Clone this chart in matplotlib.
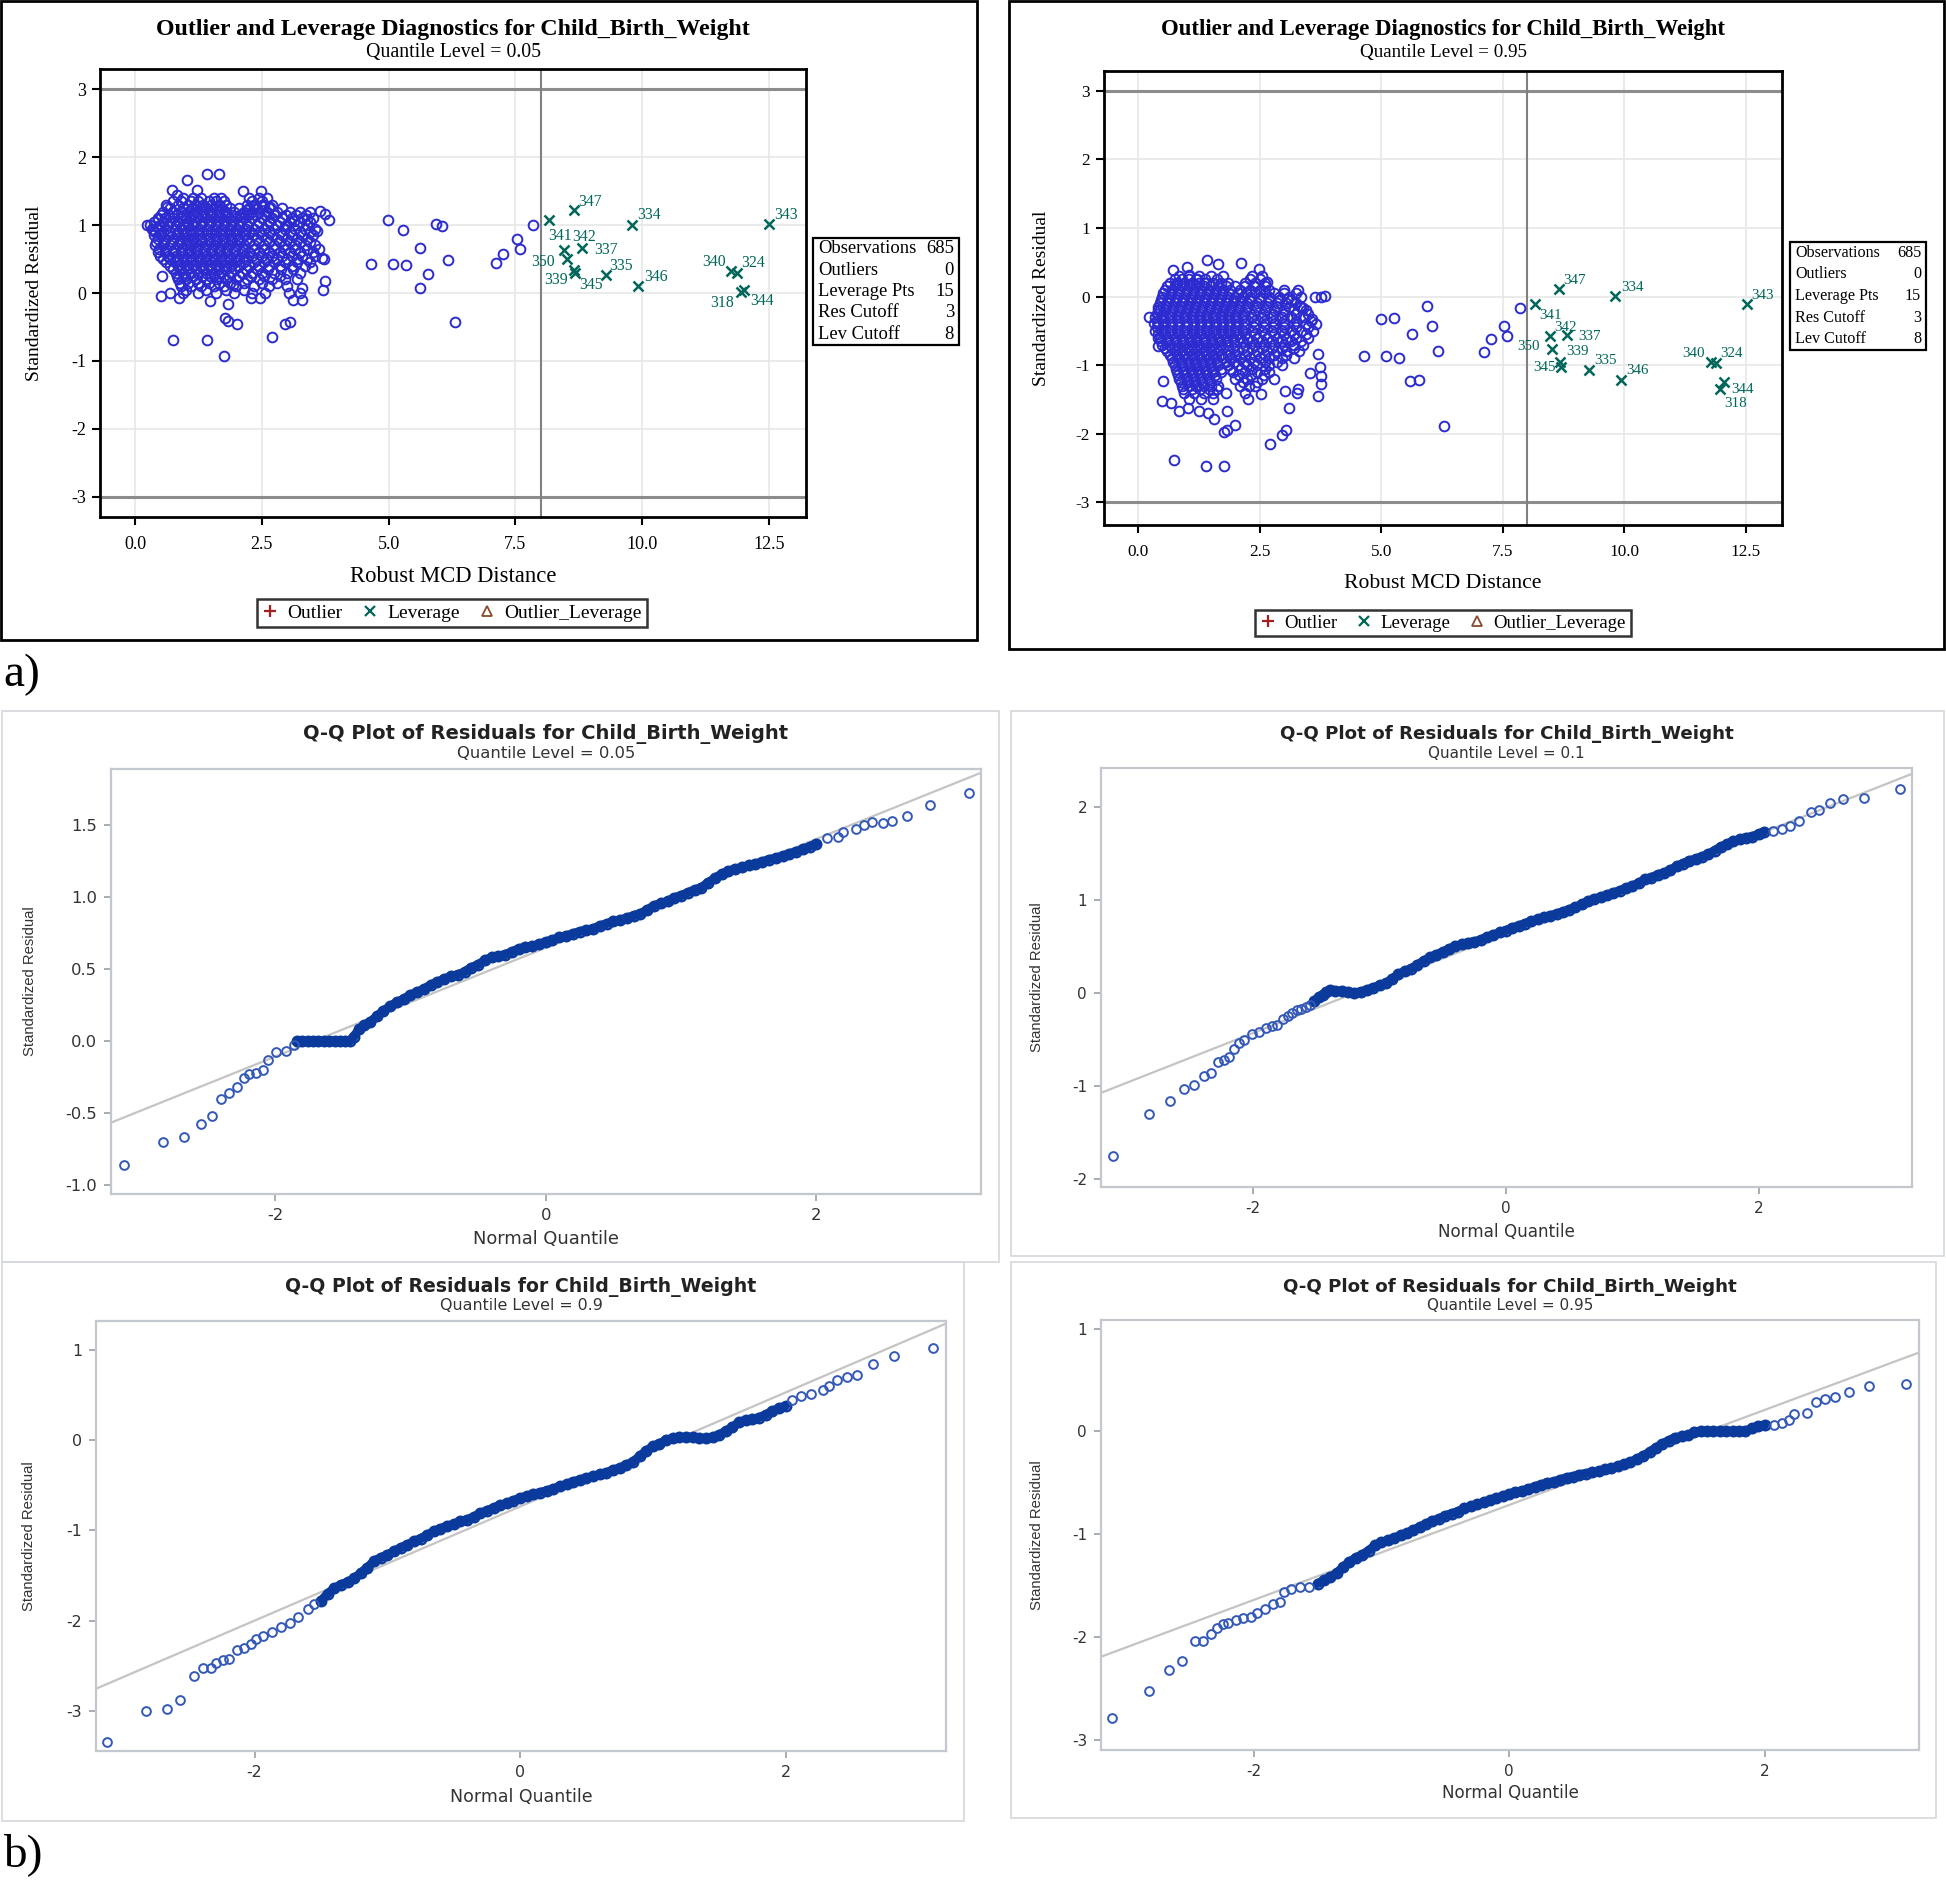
import matplotlib
matplotlib.use("Agg")
import matplotlib.pyplot as plt
from matplotlib.lines import Line2D
from matplotlib.patches import Rectangle

# ------------------------------------------------------------------ data
# Panel a) : Outlier and leverage diagnostics
diag_levels = ["0.05", "0.95"]
diag_xticks = [0.0, 2.5, 5.0, 7.5, 10.0, 12.5]
diag_xticklabels = ["0.0", "2.5", "5.0", "7.5", "10.0", "12.5"]
diag_yticks = [-3, -2, -1, 0, 1, 2, 3]
res_cutoff = 3
lev_cutoff = 8
stats_labels = ["Observations", "Outliers", "Leverage Pts", "Res Cutoff", "Lev Cutoff"]
stats_values = ["685", "0", "15", "3", "8"]
legend_labels = ["Outlier", "Leverage", "Outlier_Leverage"]

# dense cloud, read row by row (residual, list of robust distances)
q05_cloud_rows = [
    (1.40, [0.95, 1.15, 1.30, 1.55, 1.70, 2.25, 2.45, 2.60]),
    (1.35, [0.75, 0.90, 1.10, 1.25, 1.45, 1.60, 1.75, 2.30, 2.50]),
    (1.30, [0.62, 0.85, 1.05, 1.20, 1.35, 1.50, 1.65, 1.80, 2.20, 2.35, 2.55, 2.70]),
    (1.25, [0.70, 0.95, 1.12, 1.28, 1.42, 1.58, 1.72, 1.88, 2.05, 2.25, 2.40, 2.65, 2.90]),
    (1.20, [0.55, 0.75, 0.90, 1.05, 1.20, 1.35, 1.50, 1.65, 1.80, 1.95, 2.15, 2.30, 2.45, 2.60, 2.80, 3.05, 3.25, 3.45]),
    (1.15, [0.52, 0.68, 0.82, 0.97, 1.13, 1.32, 1.47, 1.62, 1.78, 1.92, 2.08, 2.22, 2.38, 2.58, 2.75, 2.98, 3.18, 3.38]),
    (1.10, [0.45, 0.60, 0.75, 0.90, 1.00, 1.10, 1.25, 1.40, 1.55, 1.70, 1.85, 2.00, 2.15, 2.30, 2.50, 2.70, 2.90, 3.10, 3.30, 3.50]),
    (1.05, [0.38, 0.55, 0.70, 0.85, 1.02, 1.18, 1.33, 1.48, 1.63, 1.78, 1.93, 2.08, 2.25, 2.45, 2.65, 2.85, 3.05, 3.25, 3.45]),
    (1.00, [0.30, 0.50, 0.65, 0.80, 0.95, 1.05, 1.15, 1.30, 1.45, 1.60, 1.75, 1.90, 2.05, 2.20, 2.40, 2.60, 2.80, 3.00, 3.20, 3.40]),
    (0.95, [0.33, 0.48, 0.62, 0.78, 0.92, 1.08, 1.27, 1.42, 1.58, 1.72, 1.88, 2.02, 2.18, 2.35, 2.55, 2.75, 2.95, 3.15, 3.35, 3.55]),
    (0.90, [0.40, 0.55, 0.70, 0.85, 1.00, 1.10, 1.20, 1.35, 1.50, 1.65, 1.80, 1.95, 2.10, 2.25, 2.45, 2.65, 2.85, 3.05, 3.25, 3.45]),
    (0.85, [0.38, 0.52, 0.68, 0.82, 0.97, 1.12, 1.27, 1.42, 1.57, 1.72, 1.87, 2.02, 2.17, 2.32, 2.50, 2.70, 2.90, 3.10, 3.30, 3.50]),
    (0.80, [0.45, 0.60, 0.75, 0.90, 1.05, 1.15, 1.30, 1.45, 1.60, 1.75, 1.90, 2.05, 2.20, 2.40, 2.60, 2.80, 3.00, 3.20, 3.40]),
    (0.75, [0.42, 0.58, 0.72, 0.88, 1.02, 1.18, 1.33, 1.48, 1.62, 1.78, 1.92, 2.08, 2.25, 2.45, 2.65, 2.85, 3.05, 3.25, 3.45]),
    (0.70, [0.40, 0.55, 0.70, 0.85, 1.00, 1.10, 1.25, 1.40, 1.55, 1.70, 1.85, 2.00, 2.15, 2.35, 2.55, 2.75, 2.95, 3.15, 3.35, 3.55]),
    (0.65, [0.48, 0.62, 0.78, 0.92, 1.08, 1.22, 1.38, 1.52, 1.68, 1.82, 1.98, 2.15, 2.35, 2.55, 2.75, 2.95, 3.15, 3.40, 3.62]),
    (0.60, [0.45, 0.60, 0.75, 0.90, 1.05, 1.20, 1.35, 1.50, 1.65, 1.80, 1.95, 2.10, 2.25, 2.45, 2.65, 2.85, 3.05, 3.25, 3.50]),
    (0.55, [0.50, 0.65, 0.80, 0.95, 1.10, 1.25, 1.40, 1.55, 1.70, 1.85, 2.00, 2.15, 2.30, 2.50, 2.70, 2.90, 3.10, 3.30, 3.55]),
    (0.50, [0.55, 0.70, 0.85, 1.00, 1.15, 1.30, 1.45, 1.60, 1.75, 1.90, 2.05, 2.20, 2.40, 2.60, 2.80, 3.00, 3.20, 3.40]),
    (0.45, [0.62, 0.78, 0.92, 1.08, 1.22, 1.38, 1.52, 1.68, 1.82, 1.98, 2.15, 2.35, 2.55, 2.75, 2.95, 3.20, 3.45]),
    (0.40, [0.70, 0.85, 1.00, 1.15, 1.30, 1.45, 1.60, 1.75, 1.90, 2.05, 2.25, 2.45, 2.65, 2.85, 3.10, 3.35]),
    (0.35, [0.75, 0.90, 1.05, 1.20, 1.35, 1.50, 1.65, 1.80, 1.98, 2.18, 2.40, 2.62, 2.88, 3.12]),
    (0.30, [0.80, 0.95, 1.10, 1.25, 1.40, 1.55, 1.70, 1.90, 2.10, 2.30, 2.50, 2.75, 3.00, 3.25]),
    (0.25, [0.82, 0.98, 1.15, 1.32, 1.48, 1.65, 1.85, 2.05, 2.28, 2.55, 2.85]),
    (0.20, [0.85, 1.00, 1.20, 1.40, 1.60, 1.80, 2.00, 2.20, 2.45, 2.70, 2.95, 3.20]),
    (0.15, [0.88, 1.05, 1.25, 1.45, 1.65, 1.88, 2.15, 2.50]),
    (0.10, [0.90, 1.10, 1.30, 1.55, 1.75, 2.00, 2.35, 2.65, 3.00]),
    (0.05, [1.00, 1.40, 1.80, 2.15]),
    (0.00, [0.95, 1.25, 1.60, 1.95, 2.30]),
]
q05_single = [
    (1.41, 1.75), (1.66, 1.75), (1.02, 1.66), (0.72, 1.52), (0.82, 1.44), (1.22, 1.52), (2.12, 1.50),
    (2.48, 1.50), (0.63, 1.27), (3.65, 1.21), (3.75, 1.16), (3.82, 1.08), (0.24, 1.00), (0.35, 0.93),
    (0.46, 1.09), (0.53, 0.25), (0.51, -0.04), (0.69, 0.00), (0.86, -0.08), (1.47, -0.12), (1.83, -0.16),
    (1.78, -0.37), (1.84, -0.41), (2.01, -0.46), (0.74, -0.69), (1.41, -0.69), (1.76, -0.93), (2.71, -0.65),
    (2.96, -0.46), (3.05, -0.43), (3.68, 0.52), (3.72, 0.50), (3.75, 0.17), (3.70, 0.04), (3.11, -0.11),
    (3.29, -0.11), (3.29, 0.07), (3.49, 0.37), (3.59, 0.92), (3.39, 1.09), (3.13, 1.06), (2.96, 0.99),
    (2.66, 1.26), (2.50, 1.29), (2.34, 1.26), (2.20, 1.22), (2.66, 1.06), (2.29, -0.07), (2.47, -0.07),
    (2.57, 0.00), (2.80, 0.15), (3.03, 0.00), (3.26, 0.00), (1.94, 0.12),
    (4.99, 1.08), (5.28, 0.93), (5.93, 1.02), (6.05, 0.98), (5.62, 0.67), (6.17, 0.49), (4.66, 0.43),
    (5.09, 0.42), (5.35, 0.41), (5.77, 0.28), (5.62, 0.07), (6.31, -0.43), (7.11, 0.44), (7.25, 0.58),
    (7.54, 0.79), (7.59, 0.65), (7.84, 1.00),
]
q95_cloud_rows = [
    (0.30, [0.85, 1.05, 1.25, 1.50, 1.75, 2.35, 2.55]),
    (0.25, [0.75, 0.90, 1.05, 1.20, 1.38, 1.62, 2.30, 2.50]),
    (0.20, [0.65, 0.80, 0.95, 1.10, 1.25, 1.40, 1.55, 1.70, 1.85, 2.20, 2.40, 2.60]),
    (0.15, [0.60, 0.75, 0.90, 1.05, 1.20, 1.35, 1.50, 1.65, 1.80, 2.00, 2.20, 2.40, 2.60]),
    (0.10, [0.55, 0.70, 0.85, 1.00, 1.15, 1.30, 1.45, 1.60, 1.75, 1.90, 2.10, 2.30, 2.50, 2.70, 3.00]),
    (0.05, [0.52, 0.68, 0.82, 0.98, 1.12, 1.28, 1.42, 1.58, 1.72, 1.88, 2.05, 2.22, 2.40, 2.60, 2.80, 3.00, 3.25]),
    (0.00, [0.50, 0.65, 0.80, 0.95, 1.10, 1.25, 1.40, 1.55, 1.70, 1.85, 2.00, 2.15, 2.30, 2.50, 2.70, 2.90, 3.10, 3.35]),
    (-0.05, [0.48, 0.62, 0.78, 0.92, 1.08, 1.22, 1.38, 1.52, 1.68, 1.82, 1.98, 2.12, 2.30, 2.50, 2.70, 2.90, 3.15]),
    (-0.10, [0.45, 0.60, 0.75, 0.90, 1.05, 1.20, 1.35, 1.50, 1.65, 1.80, 1.95, 2.10, 2.25, 2.45, 2.65, 2.85, 3.05, 3.25]),
    (-0.15, [0.42, 0.58, 0.72, 0.88, 1.02, 1.18, 1.32, 1.48, 1.62, 1.78, 1.92, 2.08, 2.25, 2.45, 2.65, 2.85, 3.10, 3.35]),
    (-0.20, [0.40, 0.55, 0.70, 0.85, 1.00, 1.15, 1.30, 1.45, 1.60, 1.75, 1.90, 2.05, 2.20, 2.40, 2.60, 2.80, 3.00, 3.20, 3.45]),
    (-0.25, [0.38, 0.52, 0.68, 0.82, 0.98, 1.12, 1.28, 1.42, 1.58, 1.72, 1.88, 2.02, 2.18, 2.38, 2.58, 2.78, 3.00, 3.25, 3.50]),
    (-0.30, [0.35, 0.50, 0.65, 0.80, 0.95, 1.10, 1.25, 1.40, 1.55, 1.70, 1.85, 2.00, 2.15, 2.35, 2.55, 2.75, 2.95, 3.15, 3.40]),
    (-0.35, [0.38, 0.52, 0.68, 0.82, 0.98, 1.12, 1.28, 1.42, 1.58, 1.72, 1.88, 2.02, 2.18, 2.38, 2.58, 2.78, 3.00, 3.25, 3.55]),
    (-0.40, [0.40, 0.55, 0.70, 0.85, 1.00, 1.15, 1.30, 1.45, 1.60, 1.75, 1.90, 2.05, 2.20, 2.40, 2.60, 2.80, 3.00, 3.20, 3.45, 3.65]),
    (-0.45, [0.38, 0.52, 0.68, 0.82, 0.98, 1.12, 1.28, 1.42, 1.58, 1.72, 1.88, 2.02, 2.18, 2.38, 2.58, 2.78, 3.00, 3.25, 3.50]),
    (-0.50, [0.35, 0.50, 0.65, 0.80, 0.95, 1.10, 1.25, 1.40, 1.55, 1.70, 1.85, 2.00, 2.15, 2.35, 2.55, 2.75, 2.95, 3.15, 3.35, 3.60]),
    (-0.55, [0.40, 0.55, 0.70, 0.85, 1.00, 1.15, 1.30, 1.45, 1.60, 1.75, 1.90, 2.05, 2.20, 2.40, 2.60, 2.80, 3.00, 3.20, 3.45]),
    (-0.60, [0.45, 0.60, 0.75, 0.90, 1.05, 1.20, 1.35, 1.50, 1.65, 1.80, 1.95, 2.10, 2.25, 2.45, 2.65, 2.85, 3.05, 3.25, 3.50]),
    (-0.65, [0.48, 0.62, 0.78, 0.92, 1.08, 1.22, 1.38, 1.52, 1.68, 1.82, 1.98, 2.15, 2.35, 2.55, 2.75, 2.95, 3.15, 3.35]),
    (-0.70, [0.50, 0.65, 0.80, 0.95, 1.10, 1.25, 1.40, 1.55, 1.70, 1.85, 2.00, 2.20, 2.40, 2.60, 2.80, 3.00, 3.20, 3.40]),
    (-0.75, [0.55, 0.70, 0.85, 1.00, 1.15, 1.30, 1.45, 1.60, 1.75, 1.95, 2.15, 2.35, 2.55, 2.75, 2.95, 3.20]),
    (-0.80, [0.60, 0.75, 0.90, 1.05, 1.20, 1.35, 1.50, 1.65, 1.85, 2.05, 2.25, 2.45, 2.65, 2.85, 3.05, 3.30]),
    (-0.85, [0.65, 0.80, 0.95, 1.10, 1.25, 1.40, 1.55, 1.70, 1.85, 2.00, 2.20, 2.40, 2.60, 2.80, 3.05]),
    (-0.90, [0.70, 0.85, 1.00, 1.15, 1.30, 1.45, 1.60, 1.75, 1.90, 2.10, 2.30, 2.50, 2.70, 2.95, 3.20]),
    (-0.95, [0.72, 0.88, 1.02, 1.18, 1.32, 1.48, 1.62, 1.80, 1.98, 2.18, 2.38, 2.60, 2.85]),
    (-1.00, [0.75, 0.90, 1.05, 1.20, 1.35, 1.50, 1.65, 1.85, 2.05, 2.25, 2.45, 2.70, 2.95]),
    (-1.05, [0.78, 0.92, 1.08, 1.22, 1.38, 1.52, 1.70, 1.90, 2.12, 2.35, 2.60]),
    (-1.10, [0.80, 0.95, 1.10, 1.25, 1.40, 1.55, 1.70, 1.95, 2.20, 2.45, 2.70]),
    (-1.15, [0.82, 0.98, 1.12, 1.28, 1.42, 1.58, 2.08, 2.32, 2.58]),
    (-1.20, [0.85, 1.00, 1.15, 1.30, 1.45, 1.60, 2.00, 2.25, 2.55]),
    (-1.25, [0.88, 1.02, 1.18, 1.32, 1.48, 2.15, 2.45]),
    (-1.30, [0.90, 1.05, 1.20, 1.35, 1.50, 1.65, 2.10, 2.40]),
    (-1.35, [0.92, 1.10, 1.28, 1.45, 1.62]),
    (-1.40, [0.95, 1.15, 1.35, 1.55, 1.80, 2.20]),
    (-1.50, [1.05, 1.30, 1.55]),
]
q95_single = [
    (1.41, 0.53), (2.12, 0.49), (1.65, 0.47), (2.48, 0.40), (0.71, 0.39), (1.01, 0.43), (1.05, 0.32),
    (1.21, 0.25), (0.81, 0.20), (2.66, 0.22), (3.29, 0.09), (3.64, 0.00), (3.77, 0.00), (3.84, 0.01),
    (3.07, -0.03), (3.33, -0.13), (3.40, -0.17), (0.45, -0.20), (0.23, -0.30), (0.33, -0.38), (3.57, -0.32),
    (0.40, -0.60), (0.41, -0.72), (3.71, -0.83), (3.74, -1.03), (3.76, -1.16), (3.76, -1.27), (3.53, -1.11),
    (3.69, -1.45), (3.27, -1.40), (3.29, -1.35), (3.02, -1.38), (3.10, -1.63), (0.52, -1.23), (0.49, -1.52),
    (0.68, -1.55), (0.85, -1.67), (1.02, -1.62), (1.26, -1.67), (1.43, -1.69), (1.57, -1.79), (1.83, -1.67),
    (1.76, -1.97), (1.83, -1.94), (2.00, -1.87), (0.74, -2.38), (1.40, -2.47), (1.76, -2.47), (2.71, -2.15),
    (2.96, -2.02), (3.05, -1.94), (2.80, -1.20), (2.26, -1.50), (2.28, -1.30), (2.53, -1.42),
    (5.95, -0.14), (5.00, -0.32), (5.27, -0.31), (6.04, -0.43), (5.63, -0.54), (6.17, -0.80), (4.65, -0.86),
    (5.09, -0.86), (5.36, -0.90), (5.60, -1.23), (5.77, -1.22), (7.11, -0.81), (7.26, -0.62), (7.53, -0.43),
    (7.59, -0.58), (7.85, -0.17), (6.30, -1.88),
]
lev_ids = [347, 341, 334, 343, 342, 337, 350, 339, 345, 335, 346, 340, 324, 318, 344]
q05_lev_x = [8.65, 8.16, 9.79, 12.50, 8.46, 8.81, 8.52, 8.66, 8.68, 9.28, 9.92, 11.75, 11.86, 11.94, 12.01]
q05_lev_y = [1.22, 1.07, 1.00, 1.01, 0.63, 0.66, 0.50, 0.34, 0.29, 0.26, 0.10, 0.32, 0.29, 0.01, 0.04]
q95_lev_x = [8.66, 8.17, 9.81, 12.52, 8.47, 8.81, 8.52, 8.70, 8.67, 9.28, 9.93, 11.79, 11.88, 11.97, 12.04]
q95_lev_y = [0.11, -0.11, 0.01, -0.11, -0.58, -0.56, -0.76, -1.02, -0.95, -1.07, -1.22, -0.95, -0.97, -1.34, -1.25]

# Panel b) : Q-Q plots of residuals  (normal quantile, standardized residual)
qq_levels = ["0.05", "0.1", "0.9", "0.95"]
qq05_lo = [(-3.12, -0.86), (-2.83, -0.70), (-2.67, -0.67), (-2.55, -0.58), (-2.47, -0.52), (-2.40, -0.40),
           (-2.34, -0.36), (-2.28, -0.32), (-2.23, -0.26), (-2.19, -0.23), (-2.14, -0.22), (-2.09, -0.20),
           (-2.05, -0.13), (-1.99, -0.08), (-1.92, -0.07), (-1.86, -0.03)]
qq05_band = [(-1.84, 0.0), (-1.80, 0.0), (-1.76, 0.0), (-1.72, 0.0), (-1.68, 0.0), (-1.64, 0.0), (-1.60, 0.0),
             (-1.56, 0.0), (-1.52, 0.0), (-1.48, 0.0), (-1.45, 0.0), (-1.42, 0.03), (-1.38, 0.08), (-1.34, 0.11),
             (-1.30, 0.13), (-1.25, 0.17), (-1.20, 0.21), (-1.15, 0.24), (-1.10, 0.27), (-1.05, 0.29), (-1.00, 0.32),
             (-0.95, 0.34), (-0.90, 0.36), (-0.85, 0.39), (-0.80, 0.41), (-0.75, 0.43), (-0.70, 0.45), (-0.65, 0.46),
             (-0.60, 0.48), (-0.55, 0.51), (-0.50, 0.53), (-0.45, 0.56), (-0.40, 0.58), (-0.35, 0.59), (-0.30, 0.60),
             (-0.25, 0.62), (-0.20, 0.64), (-0.15, 0.65), (-0.10, 0.66), (-0.05, 0.67), (0.00, 0.69), (0.05, 0.70),
             (0.10, 0.72), (0.15, 0.73), (0.20, 0.745), (0.25, 0.76), (0.30, 0.77), (0.35, 0.78), (0.40, 0.80),
             (0.45, 0.815), (0.50, 0.83), (0.55, 0.84), (0.60, 0.855), (0.65, 0.87), (0.70, 0.885), (0.75, 0.91),
             (0.80, 0.94), (0.85, 0.955), (0.90, 0.97), (0.95, 0.995), (1.00, 1.01), (1.05, 1.03), (1.10, 1.05),
             (1.15, 1.065), (1.20, 1.10), (1.25, 1.13), (1.30, 1.16), (1.35, 1.18), (1.40, 1.195), (1.45, 1.205),
             (1.50, 1.22), (1.55, 1.23), (1.60, 1.245), (1.65, 1.26), (1.70, 1.27), (1.75, 1.285), (1.80, 1.30),
             (1.85, 1.315), (1.90, 1.33), (1.95, 1.35), (2.00, 1.37)]
qq05_hi = [(2.08, 1.41), (2.16, 1.42), (2.20, 1.45), (2.29, 1.47), (2.35, 1.50), (2.41, 1.52), (2.49, 1.515),
           (2.56, 1.53), (2.67, 1.56), (2.84, 1.64), (3.13, 1.72)]

qq10_lo = [(-3.11, -1.76), (-2.82, -1.30), (-2.66, -1.16), (-2.55, -1.03), (-2.47, -0.99), (-2.39, -0.89),
           (-2.33, -0.86), (-2.28, -0.74), (-2.23, -0.72), (-2.19, -0.69), (-2.15, -0.60), (-2.11, -0.54),
           (-2.07, -0.51), (-2.01, -0.44), (-1.95, -0.42), (-1.90, -0.38), (-1.85, -0.36), (-1.81, -0.35),
           (-1.76, -0.28), (-1.72, -0.25), (-1.69, -0.22), (-1.65, -0.19), (-1.62, -0.17), (-1.58, -0.15),
           (-1.55, -0.13)]
qq10_band = [(-1.52, -0.09), (-1.48, -0.05), (-1.45, -0.02), (-1.42, 0.01), (-1.39, 0.025), (-1.35, 0.02),
             (-1.30, 0.02), (-1.25, 0.01), (-1.20, 0.00), (-1.15, 0.01), (-1.10, 0.03), (-1.05, 0.055),
             (-1.00, 0.08), (-0.95, 0.10), (-0.90, 0.15), (-0.85, 0.20), (-0.80, 0.23), (-0.75, 0.26),
             (-0.70, 0.30), (-0.65, 0.345), (-0.60, 0.38), (-0.55, 0.41), (-0.50, 0.44), (-0.45, 0.47),
             (-0.40, 0.50), (-0.35, 0.52), (-0.30, 0.54), (-0.25, 0.55), (-0.20, 0.57), (-0.15, 0.60),
             (-0.10, 0.62), (-0.05, 0.65), (0.00, 0.67), (0.05, 0.70), (0.10, 0.72), (0.15, 0.745),
             (0.20, 0.77), (0.25, 0.79), (0.30, 0.81), (0.35, 0.83), (0.40, 0.85), (0.45, 0.87), (0.50, 0.895),
             (0.55, 0.92), (0.60, 0.95), (0.65, 0.985), (0.70, 1.01), (0.75, 1.03), (0.80, 1.05), (0.85, 1.075),
             (0.90, 1.10), (0.95, 1.125), (1.00, 1.15), (1.05, 1.18), (1.10, 1.22), (1.15, 1.24), (1.20, 1.27),
             (1.25, 1.29), (1.30, 1.32), (1.35, 1.36), (1.40, 1.39), (1.45, 1.42), (1.50, 1.44), (1.55, 1.465),
             (1.60, 1.49), (1.65, 1.53), (1.70, 1.57), (1.75, 1.60), (1.80, 1.63), (1.85, 1.65), (1.90, 1.67),
             (1.95, 1.68), (2.00, 1.71), (2.04, 1.73)]
qq10_hi = [(2.11, 1.74), (2.18, 1.76), (2.25, 1.79), (2.32, 1.85), (2.41, 1.94), (2.48, 1.97), (2.56, 2.04),
           (2.67, 2.08), (2.83, 2.09), (3.12, 2.19)]

qq90_lo = [(-3.11, -3.34), (-2.82, -3.00), (-2.66, -2.97), (-2.56, -2.88), (-2.46, -2.61), (-2.39, -2.52),
           (-2.33, -2.52), (-2.29, -2.47), (-2.24, -2.43), (-2.19, -2.42), (-2.13, -2.32), (-2.08, -2.30),
           (-2.03, -2.26), (-1.99, -2.20), (-1.94, -2.17), (-1.87, -2.12), (-1.80, -2.07), (-1.73, -2.02),
           (-1.67, -1.96), (-1.60, -1.87), (-1.55, -1.81)]
qq90_band = [(-1.50, -1.78), (-1.45, -1.70), (-1.40, -1.64), (-1.35, -1.60), (-1.30, -1.57), (-1.25, -1.53),
             (-1.20, -1.47), (-1.15, -1.41), (-1.10, -1.34), (-1.05, -1.30), (-1.00, -1.27), (-0.95, -1.23),
             (-0.90, -1.19), (-0.85, -1.16), (-0.80, -1.12), (-0.75, -1.09), (-0.70, -1.05), (-0.65, -1.01),
             (-0.60, -0.98), (-0.55, -0.95), (-0.50, -0.93), (-0.45, -0.90), (-0.40, -0.88), (-0.35, -0.85),
             (-0.30, -0.81), (-0.25, -0.78), (-0.20, -0.75), (-0.15, -0.72), (-0.10, -0.70), (-0.05, -0.67),
             (0.00, -0.64), (0.05, -0.62), (0.10, -0.60), (0.15, -0.58), (0.20, -0.56), (0.25, -0.54),
             (0.30, -0.51), (0.35, -0.49), (0.40, -0.46), (0.45, -0.44), (0.50, -0.42), (0.55, -0.40),
             (0.60, -0.38), (0.65, -0.36), (0.70, -0.33), (0.75, -0.31), (0.80, -0.28), (0.85, -0.24),
             (0.90, -0.18), (0.95, -0.12), (1.00, -0.07), (1.05, -0.04), (1.10, 0.00), (1.15, 0.02),
             (1.20, 0.03), (1.25, 0.03), (1.30, 0.03), (1.35, 0.02), (1.40, 0.02), (1.45, 0.03), (1.50, 0.06),
             (1.55, 0.10), (1.60, 0.14), (1.65, 0.20), (1.70, 0.22), (1.75, 0.23), (1.80, 0.25), (1.85, 0.28),
             (1.90, 0.32), (1.95, 0.35), (2.00, 0.38)]
qq90_hi = [(2.05, 0.44), (2.12, 0.49), (2.19, 0.51), (2.28, 0.55), (2.33, 0.60), (2.39, 0.67), (2.46, 0.70),
           (2.54, 0.72), (2.66, 0.84), (2.82, 0.93), (3.11, 1.02)]

qq95_lo = [(-3.11, -2.79), (-2.82, -2.53), (-2.66, -2.32), (-2.56, -2.23), (-2.46, -2.04), (-2.40, -2.04),
           (-2.33, -1.97), (-2.29, -1.91), (-2.24, -1.87), (-2.20, -1.86), (-2.14, -1.83), (-2.08, -1.82),
           (-2.02, -1.81), (-1.97, -1.77), (-1.91, -1.73), (-1.85, -1.68), (-1.79, -1.66), (-1.76, -1.56),
           (-1.71, -1.53), (-1.64, -1.51), (-1.57, -1.51)]
qq95_band = [(-1.50, -1.48), (-1.45, -1.45), (-1.40, -1.42), (-1.35, -1.38), (-1.30, -1.32), (-1.25, -1.27),
             (-1.20, -1.23), (-1.15, -1.20), (-1.10, -1.16), (-1.05, -1.11), (-1.00, -1.08), (-0.95, -1.06),
             (-0.90, -1.04), (-0.85, -1.01), (-0.80, -0.99), (-0.75, -0.96), (-0.70, -0.93), (-0.65, -0.90),
             (-0.60, -0.87), (-0.55, -0.85), (-0.50, -0.82), (-0.45, -0.80), (-0.40, -0.78), (-0.35, -0.75),
             (-0.30, -0.73), (-0.25, -0.71), (-0.20, -0.69), (-0.15, -0.67), (-0.10, -0.65), (-0.05, -0.63),
             (0.00, -0.61), (0.05, -0.59), (0.10, -0.58), (0.15, -0.56), (0.20, -0.54), (0.25, -0.52),
             (0.30, -0.50), (0.35, -0.49), (0.40, -0.47), (0.45, -0.45), (0.50, -0.44), (0.55, -0.42),
             (0.60, -0.41), (0.65, -0.40), (0.70, -0.39), (0.75, -0.37), (0.80, -0.36), (0.85, -0.34),
             (0.90, -0.32), (0.95, -0.30), (1.00, -0.27), (1.05, -0.24), (1.10, -0.20), (1.15, -0.16),
             (1.20, -0.12), (1.25, -0.09), (1.30, -0.06), (1.35, -0.05), (1.40, -0.04), (1.45, -0.01),
             (1.50, 0.00), (1.55, 0.00), (1.60, 0.00), (1.65, 0.00), (1.70, 0.00), (1.75, 0.00), (1.80, 0.00),
             (1.85, 0.00), (1.90, 0.03), (1.95, 0.05), (2.00, 0.06)]
qq95_hi = [(2.07, 0.06), (2.14, 0.08), (2.19, 0.11), (2.23, 0.17), (2.33, 0.18), (2.40, 0.29), (2.47, 0.31),
           (2.55, 0.33), (2.66, 0.38), (2.82, 0.44), (3.11, 0.46)]

# reference line of each Q-Q plot: intercept (location) and slope (scale)
qq_mu = [0.647, 0.637, -0.735, -0.716]
qq_sigma = [0.378, 0.535, 0.631, 0.462]
qq_xticks = [-2, 0, 2]
qq05_yticks = [-1.0, -0.5, 0.0, 0.5, 1.0, 1.5]
qq05_yticklabels = ["-1.0", "-0.5", "0.0", "0.5", "1.0", "1.5"]
qq10_yticks = [-2, -1, 0, 1, 2]
qq90_yticks = [-3, -2, -1, 0, 1]
qq95_yticks = [-3, -2, -1, 0, 1]

# ------------------------------------------------------------------ styling / layout
W, H = 1946, 1880
DPI = 100
fig = plt.figure(figsize=(W / DPI, H / DPI), dpi=DPI)
fig.patch.set_facecolor("white")

SERIF = ["Liberation Serif", "DejaVu Serif"]
SANS = ["DejaVu Sans"]
SANS2 = ["Liberation Sans", "DejaVu Sans"]
BLUE = "#2b2bd0"
TEAL = "#00665a"


def add_ax(l, t, r, b):
    return fig.add_axes([l / W, 1 - b / H, (r - l) / W, (b - t) / H])


def ftext(x, y, s, **kw):
    return fig.text(x / W, 1 - y / H, s, **kw)


def frect(l, t, r, b, **kw):
    fig.add_artist(Rectangle((l / W, 1 - b / H), (r - l) / W, (b - t) / H,
                             transform=fig.transFigure, fill=False, **kw))


def diag_panel(level, axbox, xlim, ylim, cloud_rows, single, lev_x, lev_y, offsets,
               border, statbox, legend_c, xlabel_y, ylabel_x, fs, stat_fs, leg_fs):
    frect(*border, ec="black", lw=2.0)
    l, t, r, b = axbox
    ax = add_ax(l, t, r, b)
    ax.set_xlim(*xlim)
    ax.set_ylim(*ylim)
    ax.set_xticks(diag_xticks)
    ax.set_xticklabels(diag_xticklabels)
    ax.set_yticks(diag_yticks)
    ax.set_yticklabels([str(v) for v in diag_yticks])
    for lab in ax.get_xticklabels() + ax.get_yticklabels():
        lab.set_family(SERIF)
        lab.set_fontsize(13 * fs)
    ax.tick_params(direction="out", length=6, width=1.5, color="black", pad=8)
    ax.tick_params(axis="y", pad=4)
    ax.grid(True, color="#e8e8e8", lw=1.2, zorder=0)
    ax.set_axisbelow(True)
    for s in ax.spines.values():
        s.set_linewidth(2.0)
        s.set_color("black")
    ax.axhline(res_cutoff, color="#8c8c8c", lw=2.2, zorder=1)
    ax.axhline(-res_cutoff, color="#8c8c8c", lw=2.2, zorder=1)
    ax.axvline(lev_cutoff, color="#808080", lw=1.5, zorder=1)
    cx, cy = [], []
    for yv, xs in cloud_rows:
        cx += xs
        cy += [yv] * len(xs)
    cx += [p[0] for p in single]
    cy += [p[1] for p in single]
    ax.plot(cx, cy, ls="", marker="o", ms=7.0, mfc="none", mec=BLUE, mew=1.4, zorder=3)
    ax.plot(lev_x, lev_y, ls="", marker="x", ms=7.0, mec=TEAL, mew=1.8, zorder=4)
    for i, pid in enumerate(lev_ids):
        ax.annotate(str(pid), (lev_x[i], lev_y[i]), xytext=offsets[pid], textcoords="offset points",
                    ha="center", va="center", color=TEAL, fontsize=11.3 * fs, family=SERIF, zorder=5)
    cxm = (l + r) / 2
    ftext(cxm, 29, "Outlier and Leverage Diagnostics for Child_Birth_Weight", ha="center", va="center",
          family=SERIF, fontsize=17.2 * fs, fontweight="bold")
    ftext(cxm, 52, "Quantile Level = " + level, ha="center", va="center", family=SERIF, fontsize=14.3 * fs)
    ftext(cxm, xlabel_y, "Robust MCD Distance", ha="center", va="center", family=SERIF, fontsize=16.3 * fs)
    ftext(ylabel_x, (t + b) / 2, "Standardized Residual", ha="center", va="center", rotation=90,
          family=SERIF, fontsize=14)
    # statistics box
    sl, st, sr, sb = statbox
    frect(sl, st, sr, sb, ec="black", lw=1.6)
    rowh = (sb - st) / len(stats_labels)
    for i, (lab, val) in enumerate(zip(stats_labels, stats_values)):
        yy = st + rowh * (i + 0.5)
        ftext(sl + 5, yy, lab, ha="left", va="center", family=SERIF, fontsize=stat_fs)
        ftext(sr - 5, yy, val, ha="right", va="center", family=SERIF, fontsize=stat_fs)
    # legend
    handles = [Line2D([], [], ls="", marker="+", ms=9, mew=1.6, color="#a02020"),
               Line2D([], [], ls="", marker="x", ms=7, mew=1.6, color=TEAL),
               Line2D([], [], ls="", marker="^", ms=7, mew=1.3, mfc="none", mec="#8b4a2b")]
    leg = fig.legend(handles, legend_labels, loc="center",
                     bbox_to_anchor=(legend_c[0] / W, 1 - legend_c[1] / H), ncol=3, frameon=True,
                     fancybox=False, prop={"family": SERIF, "size": leg_fs}, handlelength=0.8,
                     handletextpad=0.5, columnspacing=1.0, borderpad=0.25, borderaxespad=0)
    leg.get_frame().set_edgecolor("black")
    leg.get_frame().set_linewidth(1.8)


q05_off = {347: (12, 6), 341: (8, -11), 334: (12.7, 7), 343: (12, 6.5), 342: (14.5, 9.5), 337: (17.5, -1.4),
           350: (-17.5, -1.9), 339: (-13.2, -7.2), 345: (11.3, -8.2), 335: (11, 6.7), 346: (12.7, 6.7),
           340: (-12, 6.5), 324: (12, 7.2), 318: (-13.2, -7.7), 344: (13.2, -7.9)}
q95_off = {347: (11.3, 6), 341: (10.8, -8.4), 334: (12.2, 6.2), 343: (11.5, 6.2), 342: (11.5, 6.7),
           337: (16.3, -1.2), 350: (-17.5, 1.5), 345: (-11, -4), 339: (11.5, 10.8), 335: (11.3, 6.7),
           346: (11.7, 7.2), 340: (-12.7, 6.2), 324: (11, 7.2), 344: (13.5, -5.5), 318: (11.3, -11)}

diag_panel(diag_levels[0], (100, 69, 806, 517), (-0.69, 13.23), (-3.30, 3.30), q05_cloud_rows, q05_single,
           q05_lev_x, q05_lev_y, q05_off, (1, 1, 977, 640), (813, 238, 959, 345), (452, 613), 577, 35,
           1.0, 13.4, 14.0)
diag_panel(diag_levels[1], (1104, 71, 1782, 525), (-0.70, 13.24), (-3.33, 3.29), q95_cloud_rows, q95_single,
           q95_lev_x, q95_lev_y, q95_off, (1009, 1, 1944, 649), (1790, 242, 1926, 350), (1443, 623), 584, 1042,
           0.955, 11.6, 13.5)

ftext(3, 675, "a)", ha="left", va="center", family=SERIF, fontsize=34)
ftext(3, 1855, "b)", ha="left", va="center", family=SERIF, fontsize=34)

BAND = "#0a3a9c"
TAIL = "#3358b8"
QQTXT = "#333333"


def qq_panel(idx, axbox, xlim, ylim, yticks, yticklabels, lo, band, hi, border, title_y, xlabel_y, ylabel_x, hs):
    frect(*border, ec="#d4d7dc", lw=1.2)
    l, t, r, b = axbox
    ax = add_ax(l, t, r, b)
    ax.set_xlim(*xlim)
    ax.set_ylim(*ylim)
    ax.set_xticks(qq_xticks)
    ax.set_xticklabels([str(v) for v in qq_xticks])
    ax.set_yticks(yticks)
    ax.set_yticklabels(yticklabels)
    for lab in ax.get_xticklabels() + ax.get_yticklabels():
        lab.set_family(SANS)
        lab.set_fontsize(10.5 * hs)
        lab.set_color(QQTXT)
    ax.tick_params(direction="out", length=5, width=1.2, color="#9aa0a8", pad=5)
    for s in ax.spines.values():
        s.set_linewidth(1.6)
        s.set_color("#c3c7ce")
    ax.axline((0, qq_mu[idx]), slope=qq_sigma[idx], color="#c4c4c4", lw=1.6, zorder=2)
    bx = [p[0] for p in band]
    by = [p[1] for p in band]
    ax.plot(bx, by, ls="-", lw=6.5, color=BAND, solid_capstyle="round", zorder=3)
    ax.plot(bx, by, ls="", marker="o", ms=6.8, mfc="none", mec=BAND, mew=1.8, zorder=4)
    tx = [p[0] for p in lo + hi]
    ty = [p[1] for p in lo + hi]
    ax.plot(tx, ty, ls="", marker="o", ms=6.3, mfc="none", mec=TAIL, mew=1.4, zorder=4)
    cxm = (l + r) / 2
    ftext(cxm, title_y, "Q-Q Plot of Residuals for Child_Birth_Weight", ha="center", va="center",
          family=SANS, fontsize=12.5 * hs, fontweight="bold", color="#222222")
    ftext(cxm, title_y + 19, "Quantile Level = " + qq_levels[idx], ha="center", va="center",
          family=SANS, fontsize=10.5 * hs, color=QQTXT)
    ftext(cxm, xlabel_y, "Normal Quantile", ha="center", va="center", family=SANS, fontsize=11.5 * hs,
          color=QQTXT)
    ftext(ylabel_x, (t + b) / 2, "Standardized Residual", ha="center", va="center", rotation=90,
          family=SANS2, fontsize=10.7, color=QQTXT)


qq_panel(0, (111, 769, 981, 1194), (-3.213, 3.217), (-1.063, 1.889), qq05_yticks, qq05_yticklabels,
         qq05_lo, qq05_band, qq05_hi, (2, 711, 999, 1262), 734, 1239, 30, 1.12)
qq_panel(1, (1101, 768, 1912, 1187), (-3.203, 3.212), (-2.089, 2.418), qq10_yticks,
         [str(v) for v in qq10_yticks], qq10_lo, qq10_band, qq10_hi, (1011, 711, 1944, 1256), 734, 1232, 1037,
         1.05)
qq_panel(2, (96, 1321, 946, 1751), (-3.195, 3.209), (-3.44, 1.318), qq90_yticks,
         [str(v) for v in qq90_yticks], qq90_lo, qq90_band, qq90_hi, (2, 1262, 964, 1821), 1287, 1797, 29, 1.09)
qq_panel(3, (1101, 1320, 1919, 1750), (-3.195, 3.209), (-3.099, 1.083), qq95_yticks,
         [str(v) for v in qq95_yticks], qq95_lo, qq95_band, qq95_hi, (1011, 1262, 1936, 1818), 1287, 1793, 1037,
         1.05)

fig.savefig("out.png", dpi=DPI, facecolor="white")
